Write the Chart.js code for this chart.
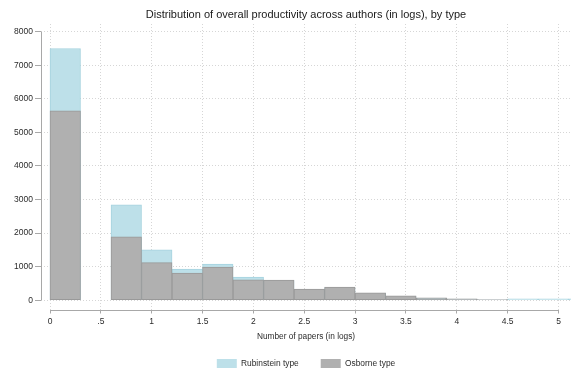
<!DOCTYPE html>
<html>
<head>
<meta charset="utf-8">
<script src="https://cdn.jsdelivr.net/npm/chart.js@4"></script>
<style>
    html, body { margin: 0; padding: 0; background: #ffffff; }
    #wrap { width: 571px; height: 373px; }
</style>
</head>
<body>
<div id="wrap"><canvas id="hist"></canvas></div>
<script>
// Histogram bins (log number of papers), width 0.3
const binWidth = 0.3;
const binLeft = [0, 0.6, 0.9, 1.2, 1.5, 1.8, 2.1, 2.4, 2.7, 3.0, 3.3, 3.6, 3.9, 4.2, 4.5, 4.8, 5.1];

// Number of authors per bin
const rubinstein = [7500, 2840, 1500, 930, 1080, 690, 590, 320, 380, 210, 120, 60, 35, 15, 40, 40, 40];
const osborne = [5640, 1890, 1120, 810, 990, 610, 600, 330, 390, 220, 130, 70, 40, 20, null, null, null];

const xTicks = [0, 0.5, 1, 1.5, 2, 2.5, 3, 3.5, 4, 4.5, 5];
const yTicks = [0, 1000, 2000, 3000, 4000, 5000, 6000, 7000, 8000];

const fontFamily = '"Liberation Sans", Arial, Helvetica, sans-serif';
const gridColor = '#d6d6d6';
const axisColor = '#a8a8a8';
const textColor = '#2b2b2b';

function toPoints(values) {
    const pts = [];
    values.forEach((v, i) => {
        if (v !== null) pts.push({ x: binLeft[i] + binWidth / 2, y: v });
    });
    return pts;
}

// Stata-style axis lines that only run between the first and last tick
const axisLines = {
    id: 'axisLines',
    afterDraw(chart) {
        const { ctx, chartArea, scales: { x, y } } = chart;
        const lx = Math.round(chartArea.left) + 0.5;
        const by = Math.round(chartArea.bottom) + 0.5;
        ctx.save();
        ctx.strokeStyle = axisColor;
        ctx.lineWidth = 1;
        ctx.beginPath();
        ctx.moveTo(lx, y.getPixelForValue(yTicks[0]));
        ctx.lineTo(lx, y.getPixelForValue(yTicks[yTicks.length - 1]));
        ctx.moveTo(x.getPixelForValue(xTicks[0]), by);
        ctx.lineTo(x.getPixelForValue(xTicks[xTicks.length - 1]), by);
        ctx.stroke();
        ctx.restore();
    }
};

const ctx = document.getElementById('hist').getContext('2d');

new Chart(ctx, {
    type: 'bar',
    data: {
        datasets: [{
            label: 'Rubinstein type',
            data: toPoints(rubinstein),
            backgroundColor: '#bde0e9',
            borderColor: '#a6d3df',
            borderWidth: 1,
            borderSkipped: false,
            grouped: false,
            barPercentage: 1,
            categoryPercentage: 1,
            order: 2
        }, {
            label: 'Osborne type',
            data: toPoints(osborne),
            backgroundColor: '#b0b0b0',
            borderColor: '#999999',
            borderWidth: 1,
            borderSkipped: false,
            grouped: false,
            barPercentage: 1,
            categoryPercentage: 1,
            order: 1
        }]
    },
    options: {
        responsive: true,
        maintainAspectRatio: false,
        animation: false,
        layout: {
            padding: { left: 0, right: 0, top: 0, bottom: -5 }
        },
        scales: {
            x: {
                type: 'linear',
                min: -0.0885,
                max: 5.123,
                offset: false,
                afterBuildTicks: function (scale) {
                    scale.ticks = xTicks.map(v => ({ value: v }));
                },
                afterFit: function (scale) {
                    scale.height = 27.5;
                },
                ticks: {
                    color: textColor,
                    font: { family: fontFamily, size: 8.5 },
                    padding: 3,
                    maxRotation: 0,
                    autoSkip: false,
                    callback: function (value) {
                        return value === 0 ? '0' : String(value).replace(/^0\./, '.');
                    }
                },
                grid: {
                    offset: false,
                    color: gridColor,
                    tickColor: axisColor,
                    tickLength: 4,
                    tickBorderDash: []
                },
                border: { display: false, dash: [1, 2] },
                title: {
                    display: true,
                    text: 'Number of papers (in logs)',
                    color: textColor,
                    font: { family: fontFamily, size: 8.3 },
                    padding: { top: 0, bottom: -4.5 }
                }
            },
            y: {
                min: -275,
                max: 8230,
                afterBuildTicks: function (scale) {
                    scale.ticks = yTicks.map(v => ({ value: v }));
                },
                afterFit: function (scale) {
                    scale.width = 41;
                },
                ticks: {
                    color: textColor,
                    font: { family: fontFamily, size: 8.5 },
                    padding: 2,
                    callback: function (value) {
                        return String(value);
                    }
                },
                grid: {
                    color: gridColor,
                    tickColor: axisColor,
                    tickLength: 6,
                    tickBorderDash: []
                },
                border: { display: false, dash: [1, 2] }
            }
        },
        plugins: {
            title: {
                display: true,
                fullSize: false,
                text: 'Distribution of overall productivity across authors (in logs), by type',
                color: '#1a1a1a',
                font: { family: fontFamily, size: 11, weight: 'normal' },
                padding: { top: 8.4, bottom: 2.4 }
            },
            legend: {
                position: 'bottom',
                fullSize: false,
                labels: {
                    color: textColor,
                    font: { family: fontFamily, size: 8.4 },
                    boxWidth: 20,
                    boxHeight: 9,
                    padding: 22,
                    sort: (a, b) => a.datasetIndex - b.datasetIndex,
                    generateLabels: function (chart) {
                        return Chart.defaults.plugins.legend.labels.generateLabels(chart).map(item => {
                            item.strokeStyle = item.fillStyle;
                            item.lineWidth = 0;
                            return item;
                        });
                    }
                }
            },
            tooltip: { enabled: false }
        }
    },
    plugins: [axisLines]
});
</script>
</body>
</html>
